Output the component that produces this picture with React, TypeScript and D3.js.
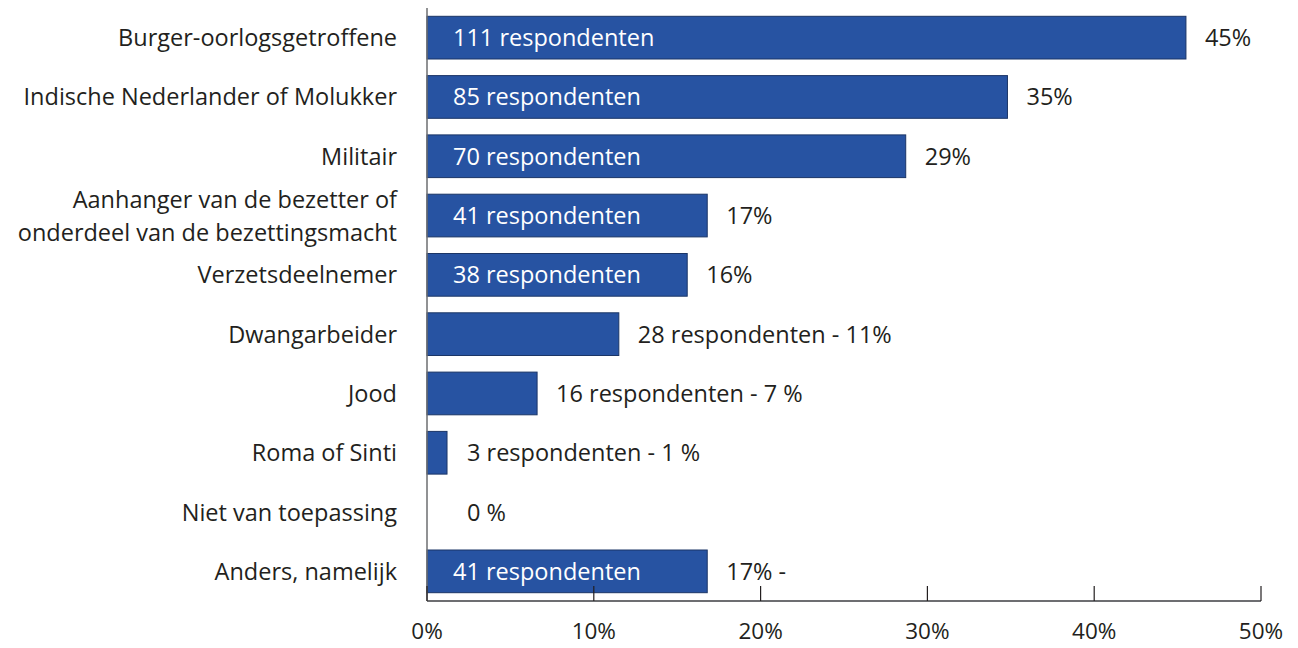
import { useEffect, useRef } from "react";
import * as d3 from "d3";

// categories top to bottom; lines split where the original wraps
const categories = [
  "Burger-oorlogsgetroffene",
  "Indische Nederlander of Molukker",
  "Militair",
  "Aanhanger van de bezetter of\nonderdeel van de bezettingsmacht",
  "Verzetsdeelnemer",
  "Dwangarbeider",
  "Jood",
  "Roma of Sinti",
  "Niet van toepassing",
  "Anders, namelijk",
];
const percentages = [45.5, 34.8, 28.7, 16.8, 15.6, 11.5, 6.6, 1.2, 0, 16.8];
const insideLabels = [
  "111 respondenten",
  "85 respondenten",
  "70 respondenten",
  "41 respondenten",
  "38 respondenten",
  "",
  "",
  "",
  "",
  "41 respondenten",
];
const outsideLabels = [
  "45%",
  "35%",
  "29%",
  "17%",
  "16%",
  "28 respondenten - 11%",
  "16 respondenten - 7 %",
  "3 respondenten - 1 %",
  "0 %",
  "17% -",
];
const xTicks = [0, 10, 20, 30, 40, 50];

export default function App() {
  const svgRef = useRef<SVGSVGElement>(null);

  useEffect(() => {
    const width = 1298;
    const height = 648;
    const margin = { top: 8, left: 427, right: 37, bottom: 47 };
    const font = "'Open Sans', sans-serif";
    const fs = 23.5;
    const textColor = "#231f20";

    const svg = d3.select(svgRef.current);
    svg.selectAll("*").remove();
    svg.attr("width", width).attr("height", height);

    const x = d3.scaleLinear().domain([0, 50]).range([margin.left, width - margin.right]);
    const y = d3
      .scaleBand<number>()
      .domain(d3.range(categories.length))
      .range([margin.top, 601])
      .paddingInner(0.28)
      .paddingOuter(0.14);

    const rows = svg
      .selectAll("g.row")
      .data(categories.map((c, i) => ({ c, i })))
      .join("g")
      .attr("class", "row");

    rows
      .append("rect")
      .attr("x", x(0))
      .attr("y", (d) => y(d.i)!)
      .attr("width", (d) => x(percentages[d.i]) - x(0))
      .attr("height", y.bandwidth())
      .attr("fill", "#2753a2")
      .attr("stroke", (d) => (percentages[d.i] > 0 ? "#1b3566" : "none"))
      .attr("stroke-width", 1);

    rows
      .append("text")
      .attr("x", x(0) + 26)
      .attr("y", (d) => y(d.i)! + y.bandwidth() / 2)
      .attr("dy", "0.36em")
      .attr("font-family", font)
      .attr("font-size", fs)
      .attr("fill", "#ffffff")
      .text((d) => insideLabels[d.i]);

    rows
      .append("text")
      .attr("x", (d) => Math.max(x(percentages[d.i]), x(0) + 21) + 19)
      .attr("y", (d) => y(d.i)! + y.bandwidth() / 2)
      .attr("dy", "0.36em")
      .attr("font-family", font)
      .attr("font-size", fs)
      .attr("fill", textColor)
      .text((d) => outsideLabels[d.i]);

    // category labels, right aligned
    const lab = rows
      .append("text")
      .attr("text-anchor", "end")
      .attr("font-family", font)
      .attr("font-size", fs)
      .attr("fill", textColor);
    lab.each(function (d) {
      const lines = d.c.split("\n");
      const cy = y(d.i)! + y.bandwidth() / 2;
      const lh = 33;
      d3.select(this)
        .selectAll("tspan")
        .data(lines)
        .join("tspan")
        .attr("x", 397)
        .attr("y", (_, k) => cy + (k - (lines.length - 1) / 2) * lh)
        .attr("dy", "0.36em")
        .text((t) => t);
    });

    // y axis line
    svg
      .append("line")
      .attr("x1", x(0))
      .attr("x2", x(0))
      .attr("y1", margin.top)
      .attr("y2", 601)
      .attr("stroke", "#6d6e71")
      .attr("stroke-width", 1.5);

    // x axis
    const axis = svg.append("g").attr("transform", "translate(0,601)");
    axis
      .append("line")
      .attr("x1", x(0))
      .attr("x2", x(50))
      .attr("stroke", "#6d6e71")
      .attr("stroke-width", 2);
    axis
      .selectAll("line.tick")
      .data(xTicks)
      .join("line")
      .attr("class", "tick")
      .attr("x1", (d) => x(d))
      .attr("x2", (d) => x(d))
      .attr("y1", 0)
      .attr("y2", -15)
      .attr("stroke", "#231f20")
      .attr("stroke-width", 1.2);
    axis
      .selectAll("text")
      .data(xTicks)
      .join("text")
      .attr("x", (d) => x(d))
      .attr("y", 30)
      .attr("dy", "0.36em")
      .attr("text-anchor", "middle")
      .attr("font-family", font)
      .attr("font-size", 22.5)
      .attr("fill", textColor)
      .text((d) => `${d}%`);
  }, []);

  return (
    <svg
      ref={svgRef}
      style={{ position: "absolute", left: 0, top: 0, background: "#fff" }}
    />
  );
}
